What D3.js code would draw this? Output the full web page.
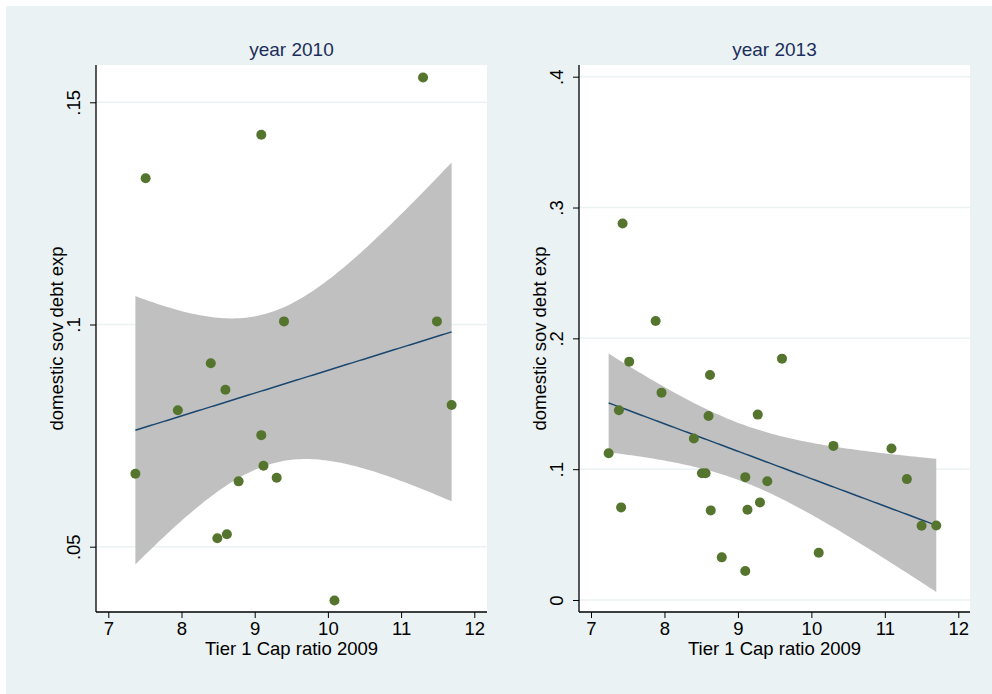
<!DOCTYPE html>
<html>
<head>
<meta charset="utf-8">
<script src="https://cdn.jsdelivr.net/npm/d3@7"></script>
<style>
  body { margin: 0; background: #fff; }
  text { font-family: "Liberation Sans", Arial, sans-serif; }
</style>
</head>
<body>
<div id="chart"></div>
<script>
// data
const x2010 = [11.30, 9.09, 7.51, 9.40, 11.49, 8.40, 8.60, 7.95, 11.69, 9.09, 7.37, 9.12, 8.78, 9.30, 8.49, 8.62, 10.09];
const y2010 = [0.1556, 0.1427, 0.1329, 0.1007, 0.1007, 0.0913, 0.0853, 0.0807, 0.0819, 0.0751, 0.0664, 0.0682, 0.0647, 0.0655, 0.0519, 0.0528, 0.0379];

const x2013 = [7.43, 7.88, 7.52, 9.60, 8.62, 7.96, 7.38, 8.60, 9.27, 8.40, 7.24, 10.30, 11.09, 8.51, 8.56, 9.10, 9.40, 11.30, 7.41, 8.63, 9.13, 9.30, 11.50, 11.70, 8.78, 10.10, 9.10];
const y2013 = [0.2878, 0.2132, 0.1822, 0.1845, 0.1720, 0.1585, 0.1450, 0.1407, 0.1417, 0.1234, 0.1122, 0.1178, 0.1158, 0.0969, 0.0969, 0.0939, 0.0908, 0.0924, 0.0708, 0.0685, 0.0690, 0.0746, 0.0567, 0.0570, 0.0326, 0.0361, 0.0221];

const xTicks = [7, 8, 9, 10, 11, 12];
const yTicks2010 = [0.05, 0.1, 0.15];
const yTicks2013 = [0, 0.1, 0.2, 0.3, 0.4];
const panelTitles = ["year 2010", "year 2013"];

const width = 992, height = 694;
const fs = 18.5;

const svg = d3.select("#chart")
  .append("svg")
    .attr("width", width)
    .attr("height", height);

svg.append("rect")
  .attr("x", 6).attr("y", 6)
  .attr("width", width - 6).attr("height", height - 6)
  .attr("fill", "#eaf2f3");

// t quantile (97.5%) via Cornish-Fisher expansion
function tq(df) {
  const z = 1.959964;
  return z + (z ** 3 + z) / (4 * df)
    + (5 * z ** 5 + 16 * z ** 3 + 3 * z) / (96 * df * df)
    + (3 * z ** 7 + 19 * z ** 5 + 17 * z ** 3 - 15 * z) / (384 * df ** 3);
}

// linear fit with CI of the prediction mean (like lfitci)
function fitci(xs, ys) {
  const n = xs.length;
  const mx = d3.mean(xs), my = d3.mean(ys);
  let sxx = 0, sxy = 0;
  xs.forEach((x, i) => { sxx += (x - mx) ** 2; sxy += (x - mx) * (ys[i] - my); });
  const b = sxy / sxx, a = my - b * mx;
  let sse = 0;
  xs.forEach((x, i) => { sse += (ys[i] - a - b * x) ** 2; });
  const s = Math.sqrt(sse / (n - 2));
  const t = tq(n - 2);
  const [lo, hi] = d3.extent(xs);
  return d3.range(0, 101).map(k => {
    const x = lo + (hi - lo) * k / 100;
    const yh = a + b * x;
    const se = s * Math.sqrt(1 / n + (x - mx) ** 2 / sxx);
    return { x: x, y: yh, lo: yh - t * se, hi: yh + t * se };
  });
}

const panels = [
  { xs: x2010, ys: y2010, yTicks: yTicks2010, title: panelTitles[0],
    left: 96, right: 487, xr: [108.3, 474.3], ydom: [0.05, 0.15], yr: [546.7, 102.3],
    tickFmt: d => d3.format(".2f")(d).replace(/^0/, "").replace(/0$/, "") },
  { xs: x2013, ys: y2013, yTicks: yTicks2013, title: panelTitles[1],
    left: 579, right: 970, xr: [591, 958.3], ydom: [0, 0.4], yr: [600, 76.7],
    tickFmt: d => d === 0 ? "0" : d3.format(".1f")(d).replace(/^0/, "") }
];

const plotTop = 65, plotBottom = 612;

panels.forEach(p => {
  const x = d3.scaleLinear().domain([7, 12]).range(p.xr);
  const y = d3.scaleLinear().domain(p.ydom).range(p.yr);
  const g = svg.append("g");

  g.append("rect")
    .attr("x", p.left).attr("y", plotTop)
    .attr("width", p.right - p.left).attr("height", plotBottom - plotTop)
    .attr("fill", "#fff");

  // gridlines
  g.selectAll(".grid")
    .data(p.yTicks)
    .join("line")
      .attr("class", "grid")
      .attr("x1", p.left).attr("x2", p.right)
      .attr("y1", d => y(d)).attr("y2", d => y(d))
      .attr("stroke", "#eaf2f3")
      .attr("stroke-width", 1.5);

  const fit = fitci(p.xs, p.ys);

  g.append("path")
    .datum(fit)
    .attr("d", d3.area().x(d => x(d.x)).y0(d => y(d.lo)).y1(d => y(d.hi)))
    .attr("fill", "#c0c0c0");

  g.append("path")
    .datum(fit)
    .attr("d", d3.line().x(d => x(d.x)).y(d => y(d.y)))
    .attr("fill", "none")
    .attr("stroke", "#1a476f")
    .attr("stroke-width", 1.5);

  g.selectAll("circle")
    .data(p.xs.map((v, i) => [v, p.ys[i]]))
    .join("circle")
      .attr("cx", d => x(d[0]))
      .attr("cy", d => y(d[1]))
      .attr("r", 5)
      .attr("fill", "#55752f");

  // axes
  const xAxis = d3.axisBottom(x).tickValues(xTicks).tickSize(6).tickPadding(4).tickFormat(d3.format("d"));
  const xg = g.append("g").attr("transform", `translate(0,${plotBottom})`).call(xAxis);
  xg.select(".domain").attr("d", `M${p.left},0H${p.right}`).attr("stroke", "#000").attr("stroke-width", 1.3);
  xg.selectAll("text").attr("font-size", fs).attr("fill", "#000")
    .attr("font-family", "'Liberation Sans', Arial, sans-serif");

  const yAxis = d3.axisLeft(y).tickValues(p.yTicks).tickSize(6).tickFormat(p.tickFmt);
  const yg = g.append("g").attr("transform", `translate(${p.left},0)`).call(yAxis);
  yg.select(".domain").attr("d", `M0,${plotTop}V${plotBottom}`).attr("stroke", "#000").attr("stroke-width", 1.3);
  yg.selectAll(".tick text")
    .attr("font-size", fs).attr("fill", "#000")
    .attr("font-family", "'Liberation Sans', Arial, sans-serif")
    .attr("x", null).attr("dy", null)
    .attr("text-anchor", "middle")
    .attr("transform", "translate(-16,0) rotate(-90)");

  // titles
  const cx = (p.left + p.right) / 2;
  g.append("text")
    .attr("x", cx).attr("y", 56)
    .attr("text-anchor", "middle")
    .attr("font-size", 19)
    .attr("fill", "#1c2e5c")
    .text(p.title);

  g.append("text")
    .attr("x", cx).attr("y", 655)
    .attr("text-anchor", "middle")
    .attr("font-size", fs)
    .attr("fill", "#000")
    .text("Tier 1 Cap ratio 2009");

  g.append("text")
    .attr("transform", `translate(${p.left - 33},${(plotTop + plotBottom) / 2}) rotate(-90)`)
    .attr("text-anchor", "middle")
    .attr("font-size", fs)
    .attr("fill", "#000")
    .text("domestic sov debt exp");
});
</script>
</body>
</html>
